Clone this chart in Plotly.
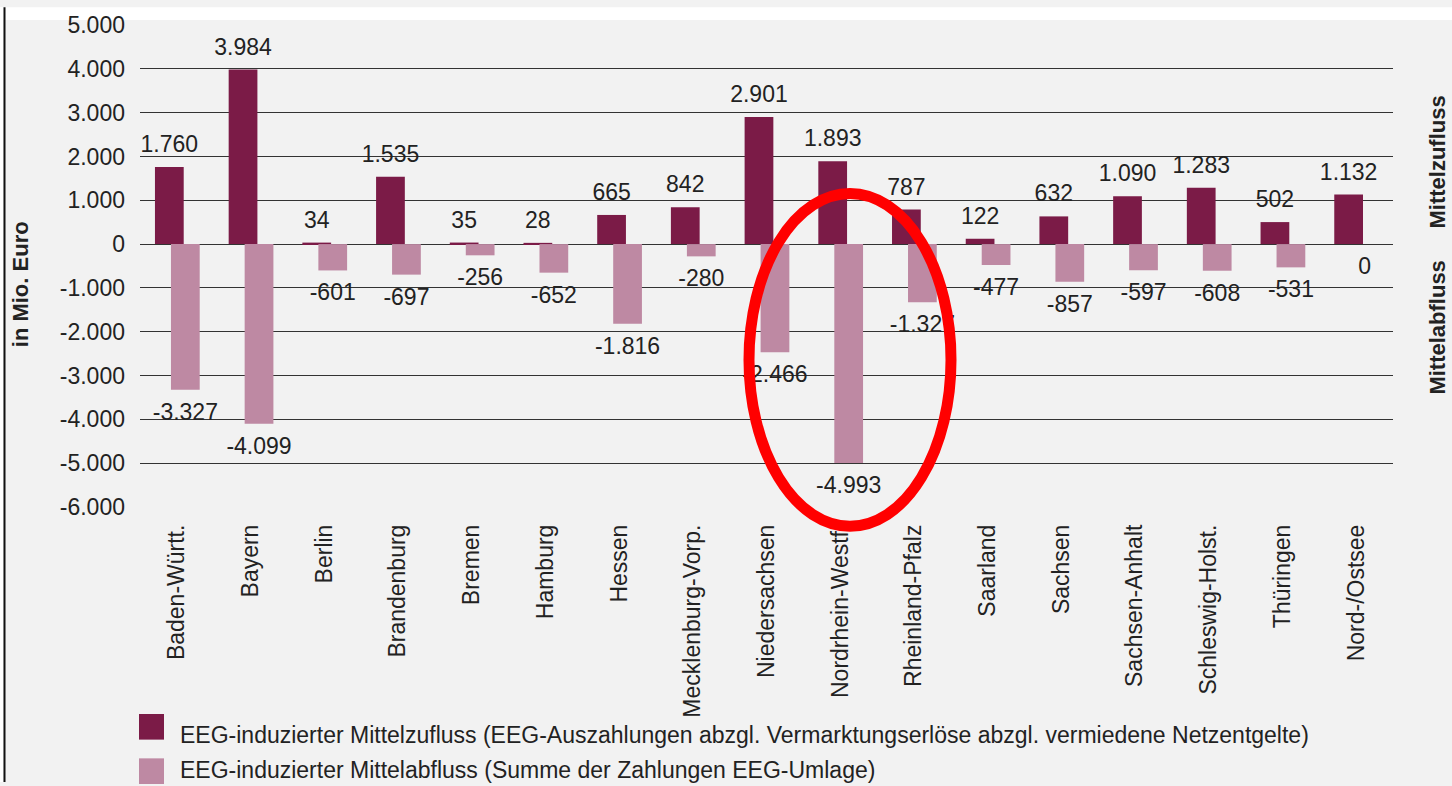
import plotly.graph_objects as go

# ---------------- data ----------------
categories = ["Baden-Württ.", "Bayern", "Berlin", "Brandenburg", "Bremen", "Hamburg",
              "Hessen", "Mecklenburg-Vorp.", "Niedersachsen", "Nordrhein-Westf.",
              "Rheinland-Pfalz", "Saarland", "Sachsen", "Sachsen-Anhalt",
              "Schleswig-Holst.", "Thüringen", "Nord-/Ostsee"]
zufluss = [1760, 3984, 34, 1535, 35, 28, 665, 842, 2901, 1893, 787, 122, 632, 1090, 1283, 502, 1132]
abfluss = [-3327, -4099, -601, -697, -256, -652, -1816, -280, -2466, -4993, -1327, -477, -857,
           -597, -608, -531, 0]
y_tickvals = [5000, 4000, 3000, 2000, 1000, 0, -1000, -2000, -3000, -4000, -5000, -6000]
y_ticktext = ["5.000", "4.000", "3.000", "2.000", "1.000", "0", "-1.000", "-2.000",
              "-3.000", "-4.000", "-5.000", "-6.000"]
name_zu = "EEG-induzierter Mittelzufluss (EEG-Auszahlungen abzgl. Vermarktungserlöse abzgl. vermiedene Netzentgelte)"
name_ab = "EEG-induzierter Mittelabfluss (Summe der Zahlungen EEG-Umlage)"

# ---------------- style ----------------
W, H = 1452, 786
ML, MR, MT, MB = 140, 59, 18, 279
PW, PH = W - ML - MR, H - MT - MB
YMIN, YMAX = -6000, 5000
DARK = "#7b1b47"
LIGHT = "#be89a3"
BG = "#f2f2f2"
TXT = "#222222"
FONT = "Liberation Sans, Arial, sans-serif"
FS = 23
BAR_W = 0.39
OFF_ZU, OFF_AB = -0.297, -0.08


def de(v):
    return f"{v:,}".replace(",", ".")


def px_x(px):
    return (px - ML) / PW


def px_y(py):
    return (H - MB - py) / PH


units_per_px = (YMAX - YMIN) / PH
pad_pos = 21 * units_per_px
pad_neg = 24.5 * units_per_px
idx = list(range(len(categories)))

fig = go.Figure()
fig.add_bar(x=categories, y=zufluss, name=name_zu, marker_color=DARK, marker_line_width=0,
            width=BAR_W, offset=OFF_ZU, showlegend=False)
fig.add_bar(x=categories, y=abfluss, name=name_ab, marker_color=LIGHT, marker_line_width=0,
            width=BAR_W, offset=OFF_AB, showlegend=False)

# value labels (on an overlaid linear axis aligned with the category axis)
fig.add_scatter(x=[i + OFF_ZU + BAR_W / 2 for i in idx], y=[v + pad_pos for v in zufluss],
                mode="text", text=[de(v) for v in zufluss], textposition="middle center",
                textfont=dict(family=FONT, size=FS, color=TXT), xaxis="x2", showlegend=False,
                hoverinfo="skip")
fig.add_scatter(x=[i + OFF_AB + BAR_W / 2 for i in idx], y=[v - pad_neg for v in abfluss],
                mode="text", text=[de(v) for v in abfluss], textposition="middle center",
                textfont=dict(family=FONT, size=FS, color=TXT), xaxis="x2", showlegend=False,
                hoverinfo="skip")

shapes = [
    # white top strip and left frame
    dict(type="rect", xref="paper", yref="paper", x0=px_x(0), x1=px_x(W), y0=px_y(0), y1=px_y(13),
         fillcolor="white", line_width=0, layer="below"),
    dict(type="rect", xref="paper", yref="paper", x0=px_x(0), x1=px_x(3), y0=px_y(0), y1=px_y(H),
         fillcolor="white", line_width=0, layer="below"),
    dict(type="line", xref="paper", yref="paper", x0=px_x(4.5), x1=px_x(4.5), y0=px_y(0), y1=px_y(H),
         line=dict(color="#111111", width=2), layer="above"),
    # legend swatches
    dict(type="rect", xref="paper", yref="paper", x0=px_x(139), x1=px_x(164), y0=px_y(743), y1=px_y(717),
         fillcolor=DARK, line_width=0),
    dict(type="rect", xref="paper", yref="paper", x0=px_x(139), x1=px_x(164), y0=px_y(788), y1=px_y(762),
         fillcolor=LIGHT, line_width=0),
    # red highlight ellipse
    dict(type="circle", xref="paper", yref="paper", x0=px_x(749), x1=px_x(951), y0=px_y(526.5),
         y1=px_y(189), line=dict(color="#ff0000", width=11), fillcolor="rgba(0,0,0,0)", layer="above"),
]

annotations = [
    dict(text="<b>in Mio. Euro</b>", xref="paper", yref="paper", x=px_x(20), y=px_y(281),
         textangle=-90, showarrow=False, font=dict(family=FONT, size=22, color=TXT),
         xanchor="center", yanchor="middle"),
    dict(text="<b>Mittelzufluss</b>", xref="paper", yref="paper", x=px_x(1438), y=px_y(157.5),
         textangle=-90, showarrow=False, font=dict(family=FONT, size=22, color=TXT),
         xanchor="center", yanchor="middle"),
    dict(text="<b>Mittelabfluss</b>", xref="paper", yref="paper", x=px_x(1438), y=px_y(325),
         textangle=-90, showarrow=False, font=dict(family=FONT, size=22, color=TXT),
         xanchor="center", yanchor="middle"),
    dict(text=name_zu, xref="paper", yref="paper", x=px_x(178), y=px_y(738),
         showarrow=False, font=dict(family=FONT, size=FS, color=TXT), xanchor="left", yanchor="middle"),
    dict(text=name_ab, xref="paper", yref="paper", x=px_x(178), y=px_y(773.5),
         showarrow=False, font=dict(family=FONT, size=FS, color=TXT), xanchor="left", yanchor="middle"),
]

fig.update_layout(
    width=W, height=H, autosize=False,
    margin=dict(l=ML, r=MR, t=MT, b=MB, pad=0),
    paper_bgcolor=BG, plot_bgcolor="rgba(0,0,0,0)",
    barmode="overlay", showlegend=False,
    font=dict(family=FONT, size=FS, color=TXT),
    xaxis=dict(type="category", range=[-0.5, len(categories) - 0.5], tickangle=-90,
               showgrid=False, zeroline=False, showline=False, ticks="",
               ticklabelstandoff=12, tickfont=dict(family=FONT, size=FS, color=TXT)),
    xaxis2=dict(overlaying="x", range=[-0.5, len(categories) - 0.5], visible=False),
    yaxis=dict(range=[YMIN, YMAX], tickvals=y_tickvals, ticktext=y_ticktext,
               showgrid=True, gridcolor="#333333", gridwidth=1.3, zeroline=False,
               showline=False, ticks="", ticklabelstandoff=14,
               tickfont=dict(family=FONT, size=FS, color=TXT)),
    shapes=shapes, annotations=annotations,
)

fig.write_html("out.html", config={"displayModeBar": False},
               post_script="document.body.style.margin='0';document.body.style.overflow='hidden';")
